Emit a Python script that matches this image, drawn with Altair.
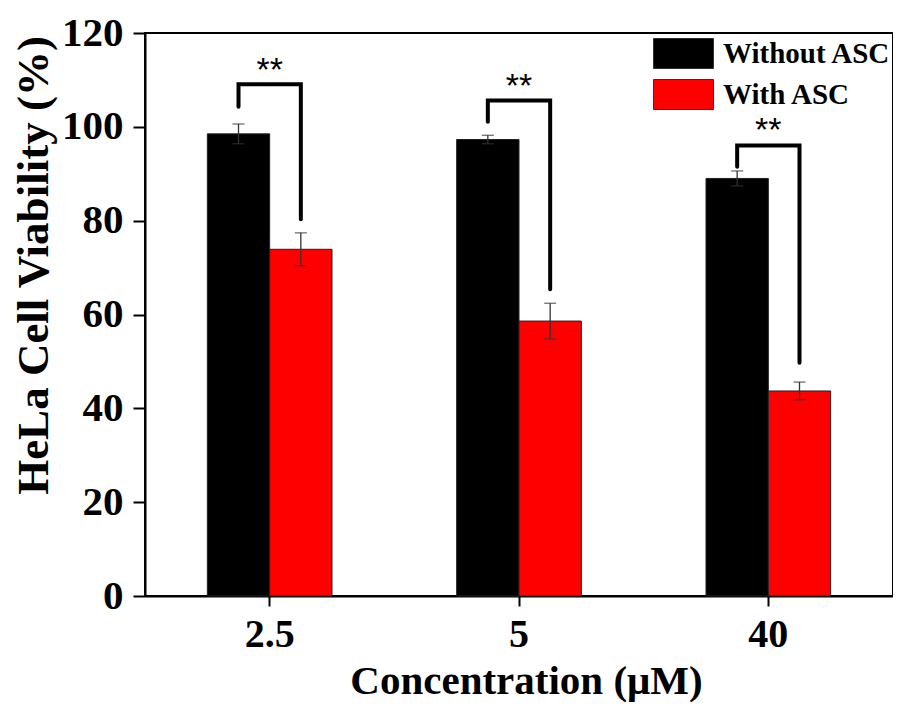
import altair as alt
import pandas as pd

conc = ["2.5", "5", "40"]
groups = ["Without ASC", "With ASC"]
without_vals = [98.5, 97.3, 89.0]
without_err = [2.1, 0.9, 1.6]
with_vals = [73.9, 58.6, 43.7]
with_err = [3.5, 3.8, 1.9]
bracket_top = [109.1, 105.6, 96.0]
bracket_left_end = [104.3, 101.1, 91.5]
bracket_right_end = [80.3, 65.4, 49.7]
star_y = [112.7, 109.3, 100.0]
star_text = ["**", "**", "**"]
y_ticks = [0, 20, 40, 60, 80, 100, 120]

rows = []
for i, c in enumerate(conc):
    rows.append({"conc": c, "group": groups[0], "value": without_vals[i],
                 "lo": without_vals[i] - without_err[i], "hi": without_vals[i] + without_err[i]})
    rows.append({"conc": c, "group": groups[1], "value": with_vals[i],
                 "lo": with_vals[i] - with_err[i], "hi": with_vals[i] + with_err[i]})
bars_df = pd.DataFrame(rows)

br = []
for i, c in enumerate(conc):
    br.append({"conc": c, "group": groups[0], "y": bracket_left_end[i], "o": 0})
    br.append({"conc": c, "group": groups[0], "y": bracket_top[i], "o": 1})
    br.append({"conc": c, "group": groups[1], "y": bracket_top[i], "o": 2})
    br.append({"conc": c, "group": groups[1], "y": bracket_right_end[i], "o": 3})
br_df = pd.DataFrame(br)

stars_df = pd.DataFrame({"conc": conc, "y": star_y, "t": star_text})

FONT = "Liberation Serif"

x_enc = alt.X("conc:N", sort=conc, scale=alt.Scale(paddingInner=0, paddingOuter=0),
              axis=alt.Axis(title="Concentration (μM)", labelAngle=0,
                            titleX=381, titleY=97, titleAlign="center",
                            titleBaseline="alphabetic"))
xo_enc = alt.XOffset("group:N", sort=groups,
                     scale=alt.Scale(domain=groups, paddingInner=0, paddingOuter=1))
y_scale = alt.Scale(domain=[0, 120], nice=False)
y_axis = alt.Axis(title="HeLa Cell Viability (%)", values=y_ticks,
                  titleX=-89, titleY=232, titleAlign="center", titleBaseline="bottom",
                  titleAngle=270)

bars = alt.Chart(bars_df).mark_bar(stroke="#222222", strokeWidth=1, opacity=1).encode(
    x=x_enc,
    xOffset=xo_enc,
    y=alt.Y("value:Q", scale=y_scale, axis=y_axis),
    color=alt.Color("group:N", sort=groups,
                    scale=alt.Scale(domain=groups, range=["#000000", "#ff0000"]),
                    legend=alt.Legend(title=None, orient="none", legendX=523, legendY=5,
                                      symbolType="M-2,-1H2V1H-2Z", symbolSize=900,
                                      symbolStrokeColor="#333333", symbolStrokeWidth=1,
                                      symbolOpacity=1, labelLimit=400,
                                      labelFont=FONT, labelFontWeight="bold",
                                      labelFontSize=29, labelColor="black",
                                      labelOffset=24, rowPadding=6, padding=0)),
)

err_rule = alt.Chart(bars_df).mark_rule(color="#333333", strokeWidth=1.3).encode(
    x=alt.X("conc:N", sort=conc), xOffset=alt.XOffset("group:N", sort=groups),
    y=alt.Y("lo:Q"), y2="hi:Q")
cap_hi = alt.Chart(bars_df).mark_tick(color="#333333", thickness=1.3, size=12, orient="horizontal").encode(
    x=alt.X("conc:N", sort=conc), xOffset=alt.XOffset("group:N", sort=groups), y=alt.Y("hi:Q"))
cap_lo = alt.Chart(bars_df).mark_tick(color="#333333", thickness=1.3, size=12, orient="horizontal").encode(
    x=alt.X("conc:N", sort=conc), xOffset=alt.XOffset("group:N", sort=groups), y=alt.Y("lo:Q"))

brackets = alt.Chart(br_df).mark_line(color="black", strokeWidth=4, strokeCap="round",
                                      strokeJoin="miter").encode(
    x=alt.X("conc:N", sort=conc), xOffset=alt.XOffset("group:N", sort=groups),
    y=alt.Y("y:Q"), detail="conc:N", order="o:Q")

stars = alt.Chart(stars_df).mark_text(font="Liberation Sans", fontSize=34, color="black",
                                      baseline="middle", dy=4).encode(
    x=alt.X("conc:N", sort=conc), y=alt.Y("y:Q"), text="t:N")

chart = alt.layer(bars, err_rule, cap_hi, cap_lo, brackets, stars).properties(
    width=748, height=563,
    autosize=alt.AutoSizeParams(type="none"),
    padding={"left": 137, "top": 25, "right": 0, "bottom": 106},
).configure_view(stroke="black", strokeWidth=2).configure_axis(
    grid=False, domainColor="black", domainWidth=2, tickColor="black", tickWidth=2,
    labelFont=FONT, labelFontWeight="bold", labelColor="black",
    titleFont=FONT, titleFontWeight="bold", titleColor="black",
).configure_axisY(
    labelFontSize=41, tickSize=12, labelPadding=10, titleFontSize=45,
).configure_axisX(
    labelFontSize=40, tickSize=10, labelPadding=8, titleFontSize=41,
)

chart.save("out.html", embed_options={"renderer": "svg", "actions": False})
